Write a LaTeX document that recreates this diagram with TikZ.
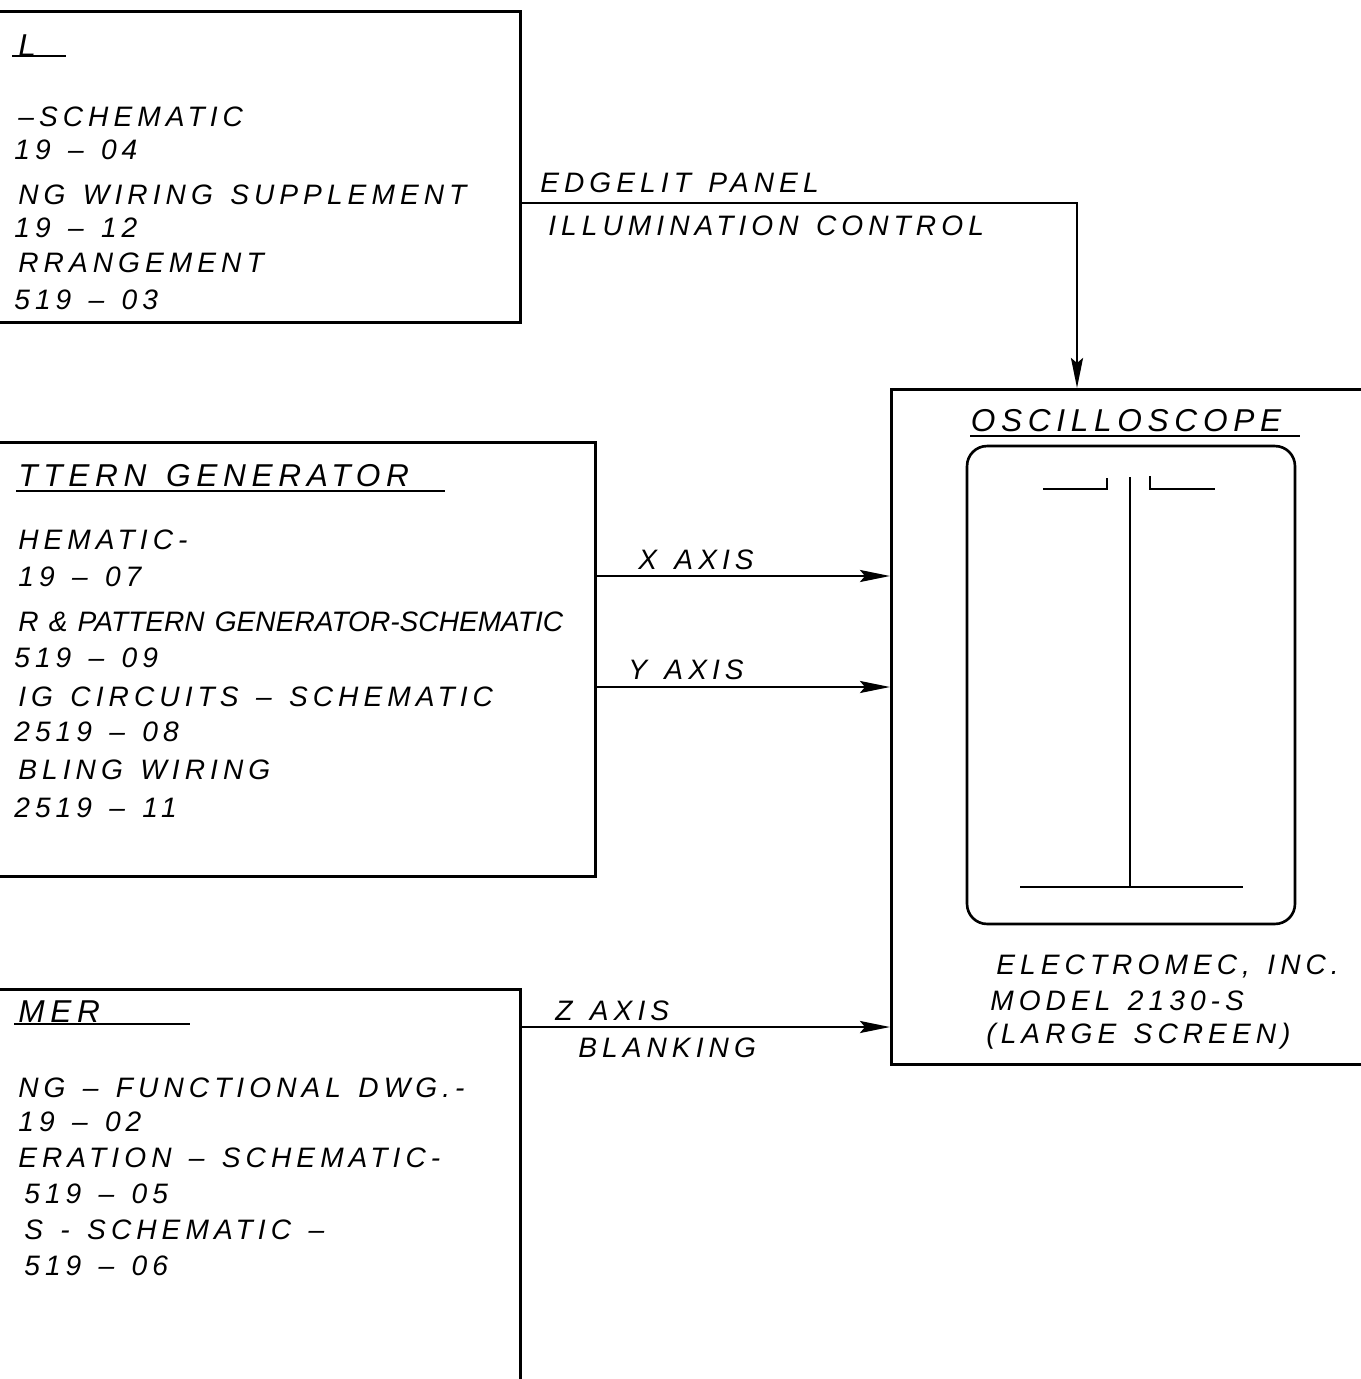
\documentclass[tikz,border=0pt]{standalone}
\usepackage{fontspec}
\newfontfamily\rucne[LetterSpace=18,WordSpace=1.35]{Liberation Sans}
\newfontfamily\rucneuzky[WordSpace=1.3]{Liberation Sans}
\usetikzlibrary{positioning,arrows.meta,calc}
\tikzset{
  blok/.style={draw,line width=1.5pt,inner sep=0pt},
  txt/.style={anchor=west,inner sep=0pt,font=\rucne\itshape\fontsize{16}{18}\selectfont},
  titul/.style={txt,font=\rucne\itshape\fontsize{18}{20}\selectfont},
  uzky/.style={txt,font=\rucneuzky\itshape\fontsize{16}{18}\selectfont},
  cara/.style={line width=1.3pt},
  sip/.style={-{Stealth[length=6mm,width=2.4mm,inset=1mm]},line width=1.5pt},
}
\begin{document}
\begin{tikzpicture}[x=0.02cm,y=-0.02cm]
  \useasboundingbox (0,0) rectangle (1361,1379);
  \clip (0,0) rectangle (1361,1379);
  \node[blok,anchor=north east,minimum width=11cm,minimum height=6.22cm] (panel) at (522,10) {};
  \node[blok,anchor=north east,minimum width=12.4cm,minimum height=8.68cm] (gen) at (597,441) {};
  \node[blok,anchor=north east,minimum width=11cm,minimum height=9cm] (timer) at (522,988) {};
  \node[blok,anchor=north west,minimum width=10cm,minimum height=13.5cm] (scope) at (890,388) {};

  \node[titul] (p0) at (18,46) {L};
  \draw[cara] (12,56) -- (66,56);
  \node[txt] (p1) at (18,117) {–SCHEMATIC};
  \node[txt] (p2) at (14,150) {19 – 04};
  \node[txt] (p3) at (18,195) {NG WIRING SUPPLEMENT};
  \node[txt] (p4) at (14,228) {19 – 12};
  \node[txt] (p5) at (18,263) {RRANGEMENT};
  \node[txt] (p6) at (14,300) {519 – 03};

  \node[titul] (g0) at (18,476) {TTERN GENERATOR};
  \draw[cara] (16,491) -- (445,491);
  \node[txt] (g1) at (18,540) {HEMATIC-};
  \node[txt] (g2) at (18,577) {19 – 07};
  \node[uzky] (g3) at (18,622) {R \& PATTERN GENERATOR-SCHEMATIC};
  \node[txt] (g4) at (14,658) {519 – 09};
  \node[txt] (g5) at (18,697) {IG CIRCUITS – SCHEMATIC};
  \node[txt] (g6) at (14,732) {2519 – 08};
  \node[txt] (g7) at (18,770) {BLING WIRING};
  \node[txt] (g8) at (14,808) {2519 – 11};

  \node[titul] (t0) at (18,1012) {MER};
  \draw[cara] (14,1024) -- (190,1024);
  \node[txt] (t1) at (18,1088) {NG – FUNCTIONAL DWG.-};
  \node[txt] (t2) at (18,1122) {19 – 02};
  \node[txt] (t3) at (18,1158) {ERATION – SCHEMATIC-};
  \node[txt] (t4) at (24,1194) {519 – 05};
  \node[txt] (t5) at (24,1230) {S - SCHEMATIC –};
  \node[txt] (t6) at (24,1266) {519 – 06};

  \draw[sip] (panel.east |- 0,203) -| (scope.north -| 1077,0);
  \node[txt] (l1) at (540,183) {EDGELIT PANEL};
  \node[txt] (l2) at (548,226) {ILLUMINATION CONTROL};
  \draw[sip] (gen.east |- 0,576) -- (scope.west |- 0,576);
  \node[txt] (lx) at (638,560) {X\ AXIS};
  \draw[sip] (gen.east |- 0,687) -- (scope.west |- 0,687);
  \node[txt] (ly) at (628,670) {Y AXIS};
  \draw[sip] (timer.east |- 0,1027) -- (scope.west |- 0,1027);
  \node[txt] (lz1) at (555,1011) {Z AXIS};
  \node[txt] (lz2) at (578,1048) {BLANKING};

  \node[titul,anchor=center] (s0) at (1126,421) {OSCILLOSCOPE};
  \draw[cara] (970,436) -- (1300,436);
  \node[blok,rounded corners=0.4cm,minimum width=6.56cm,minimum height=9.56cm] (screen) at (1131,685) {};
  \draw[cara] (1130,477) -- (1130,887);
  \draw[cara] (1020,887) -- (1243,887);
  \draw[cara] (1043,489) -- (1107,489) -- (1107,478);
  \draw[cara] (1150,476) -- (1150,489) -- (1215,489);
  \node[txt] (s1) at (996,966) {ELECTROMEC, INC.};
  \node[txt] (s2) at (990,1001) {MODEL 2130-S};
  \node[txt] (s3) at (986,1036) {(LARGE SCREEN)};
\end{tikzpicture}
\end{document}
